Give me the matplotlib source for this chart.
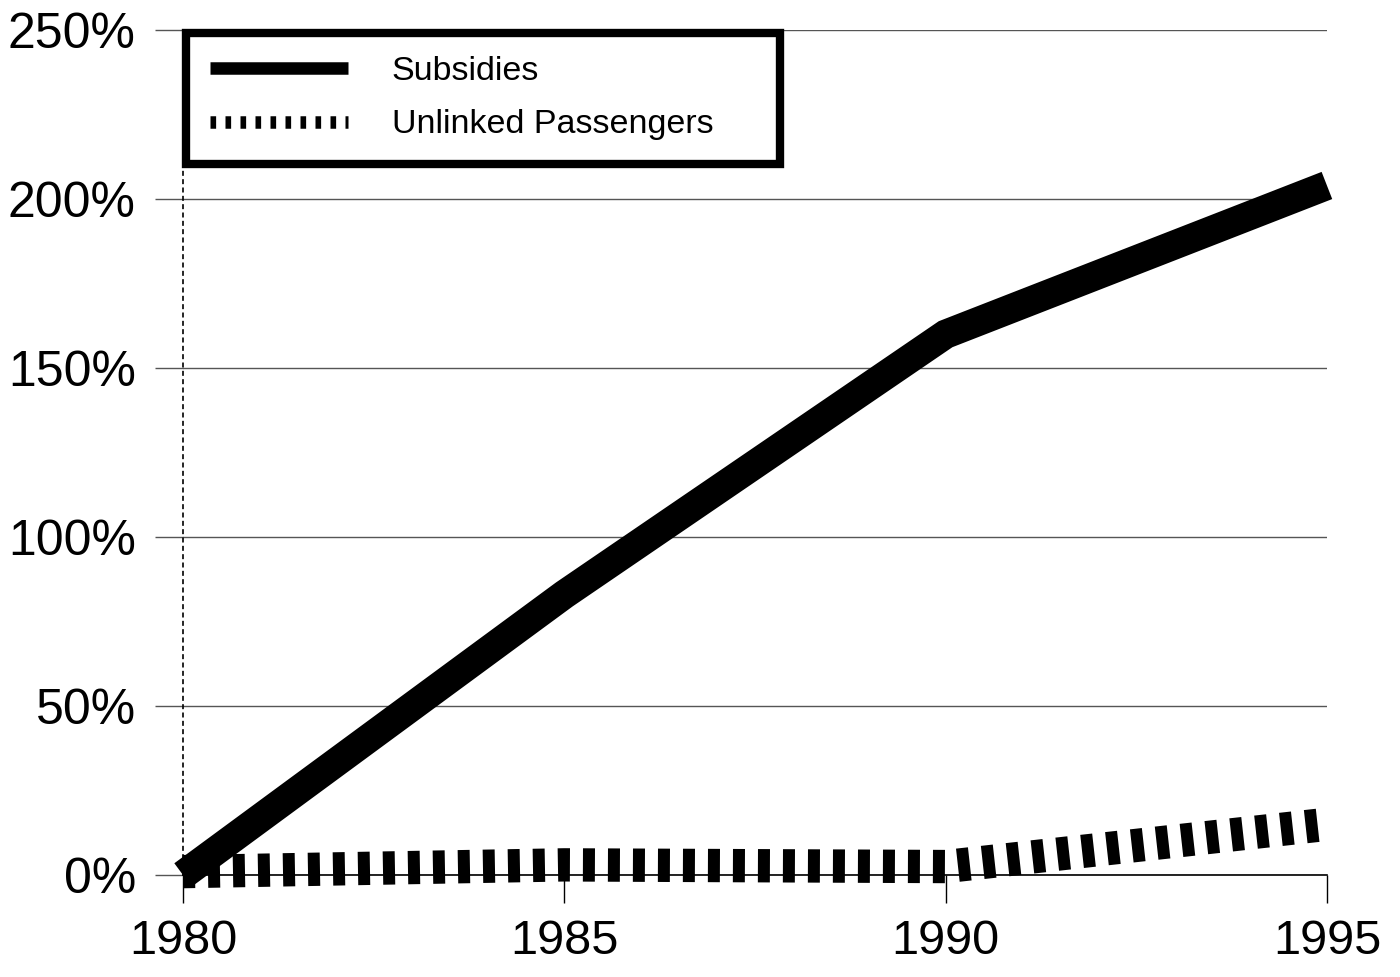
import matplotlib.pyplot as plt

plt.rcParams['font.family'] = ['Liberation Sans', 'DejaVu Sans']

# growth since 1980, in percent
years = [1980, 1985, 1990, 1995]
subsidies = [0, 83, 160, 204]
passengers = [1, 3, 2.5, 15]

fig = plt.figure(figsize=(14, 9.77), dpi=100)
ax = fig.add_axes([0.1307, 0.1044, 0.8171, 0.8649])

ax.plot(years, subsidies, color='black', lw=21, solid_capstyle='butt',
        solid_joinstyle='miter', label='Subsidies', clip_on=False, zorder=3)
ax.plot(years, passengers, color='black', lw=24, dash_capstyle='butt',
        linestyle=(0, (0.36, 0.39)), label='Unlinked Passengers',
        clip_on=False, zorder=3)

ax.set_xlim(1980, 1995)
ax.set_ylim(0, 250)
ax.set_xticks(years)
ax.set_yticks(range(0, 251, 50))
ax.set_yticklabels([f'{v}%' for v in range(0, 251, 50)])

# horizontal grid, plain frame
ax.yaxis.grid(True, color='#555555', lw=1)
ax.set_axisbelow(True)
for s in ['top', 'right']:
    ax.spines[s].set_visible(False)
ax.spines['bottom'].set_linewidth(1.2)
ax.spines['left'].set_linewidth(1.2)
ax.spines['left'].set_linestyle((0, (2, 3)))

ax.tick_params(axis='y', length=20, width=1, color='#555555', pad=14,
               labelsize=36)
ax.tick_params(axis='x', length=20, width=1, color='black', pad=12,
               labelsize=35)

leg = ax.legend(loc='upper left', bbox_to_anchor=(0.0026, 0.0, 0.519, 0.997),
                mode='expand', borderaxespad=0, fontsize=24.5, fancybox=False,
                framealpha=1, edgecolor='black', handlelength=4.05,
                handletextpad=1.3, labelspacing=0.65, borderpad=0.7)
leg.get_frame().set_linewidth(6)
hl = leg.get_lines()
hl[0].set_linewidth(9)
hl[1].set_linewidth(9)
hl[1].set_dashes((0.45, 0.75))

fig.savefig('out.png', dpi=100)
